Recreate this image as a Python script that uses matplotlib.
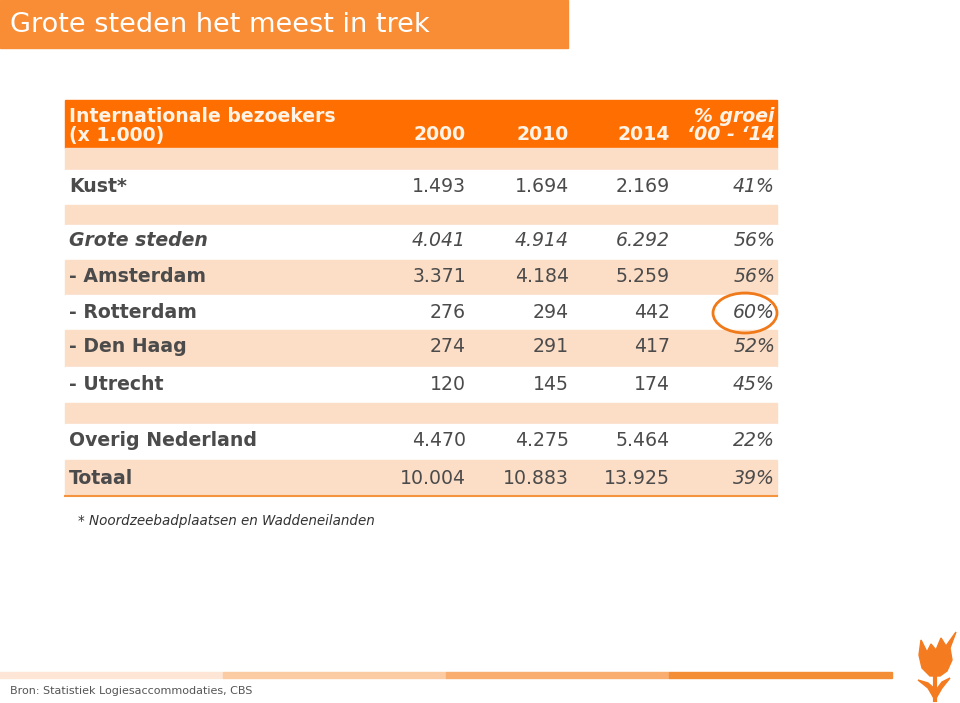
import matplotlib.pyplot as plt
from matplotlib.patches import Rectangle, Ellipse, Polygon

# data (x 1.000 bezoekers)
labels = ['Kust*', 'Grote steden', '- Amsterdam', '- Rotterdam', '- Den Haag',
          '- Utrecht', 'Overig Nederland', 'Totaal']
jaren = ['2000', '2010', '2014']
v2000 = [1493, 4041, 3371, 276, 274, 120, 4470, 10004]
v2010 = [1694, 4914, 4184, 294, 291, 145, 4275, 10883]
v2014 = [2169, 6292, 5259, 442, 417, 174, 5464, 13925]
groei = [41, 56, 56, 60, 52, 45, 22, 39]

def fmt(v):
    return '{:,}'.format(v).replace(',', '.')

orange = '#FF6E00'
peach = '#FCDDC6'
grey = '#4B4B4B'

fig = plt.figure(figsize=(9.6, 7.03), dpi=100)
ax = fig.add_axes([0, 0, 1, 1])
ax.set_xlim(0, 960)
ax.set_ylim(703, 0)
ax.axis('off')

# title bar
ax.add_patch(Rectangle((0, 0), 568, 48, color='#F98D35'))
ax.text(10, 25, 'Grote steden het meest in trek', color='white', fontsize=19.5,
        va='center', ha='left')

# table
x0, x1 = 65, 777
ax.add_patch(Rectangle((x0, 100), x1 - x0, 48, color=orange))
hc = '#FFF3E6'
fs = 13.6
ax.text(69, 116, 'Internationale bezoekers', color=hc, fontsize=fs, fontweight='bold', va='center')
ax.text(69, 135, '(x 1.000)', color=hc, fontsize=fs, fontweight='bold', va='center')
colx = [466, 569, 670, 775]
for x, j in zip(colx, jaren):
    ax.text(x, 135, j, color=hc, fontsize=fs, fontweight='bold', va='center', ha='right')
ax.text(775, 116, '% groei', color=hc, fontsize=fs, fontweight='bold', style='italic', va='center', ha='right')
ax.text(775, 135, "\u201800 - \u201814", color=hc, fontsize=fs, fontweight='bold', style='italic', va='center', ha='right')

# row bands: (top, bottom, colour)
bands = [(148, 170, peach), (170, 205, 'white'), (205, 225, peach),
         (225, 260, 'white'), (260, 295, peach), (295, 330, 'white'),
         (330, 367, peach), (367, 403, 'white'), (403, 424, peach),
         (424, 460, 'white'), (460, 495, peach)]
for top, bot, c in bands:
    ax.add_patch(Rectangle((x0, top), x1 - x0, bot - top, color=c))
ax.plot([x0, x1], [496, 496], color='#F5943F', lw=1.5)

row_y = [187, 241, 277, 312, 347, 384, 441, 478]
for i, lab in enumerate(labels):
    y = row_y[i]
    it = 'italic' if lab == 'Grote steden' else 'normal'
    ax.text(69, y, lab, color=grey, fontsize=fs, fontweight='bold', style=it, va='center')
    for x, v in zip(colx[:3], [v2000[i], v2010[i], v2014[i]]):
        ax.text(x, y, fmt(v), color=grey, fontsize=fs, style=it, va='center', ha='right')
    ax.text(colx[3], y, '%d%%' % groei[i], color=grey, fontsize=fs, style='italic',
            va='center', ha='right')

# highlight Rotterdam growth
ax.add_patch(Ellipse((745, 313), 64, 40, fill=False, edgecolor='#F07A1A', lw=2))

ax.text(78, 521, '* Noordzeebadplaatsen en Waddeneilanden', color='#333333',
        fontsize=9.75, style='italic', va='center')

# bottom bar
segs = ['#FDE6D5', '#FBCBA4', '#F9AD6F', '#F38E36']
for k, c in enumerate(segs):
    ax.add_patch(Rectangle((k * 223, 672, ), 223, 6, color=c))
ax.text(10, 691, 'Bron: Statistiek Logiesaccommodaties, CBS', color='#555555',
        fontsize=8, va='center')

# tulip logo
tulip = [(921, 640), (927, 652), (931, 644), (936, 650), (941, 638), (946, 646),
         (956, 632), (950, 648), (952, 660), (947, 671), (940, 676), (930, 676),
         (922, 668), (919, 655)]
ax.add_patch(Polygon(tulip, closed=True, color='#F47B20'))
ax.add_patch(Polygon([(918, 680), (928, 688), (935, 700), (942, 688), (950, 678),
                      (942, 682), (936, 690), (928, 683)], closed=True, color='#F47B20'))
ax.plot([935, 935], [676, 700], color='#F47B20', lw=3)

fig.savefig('out.png', dpi=100)
